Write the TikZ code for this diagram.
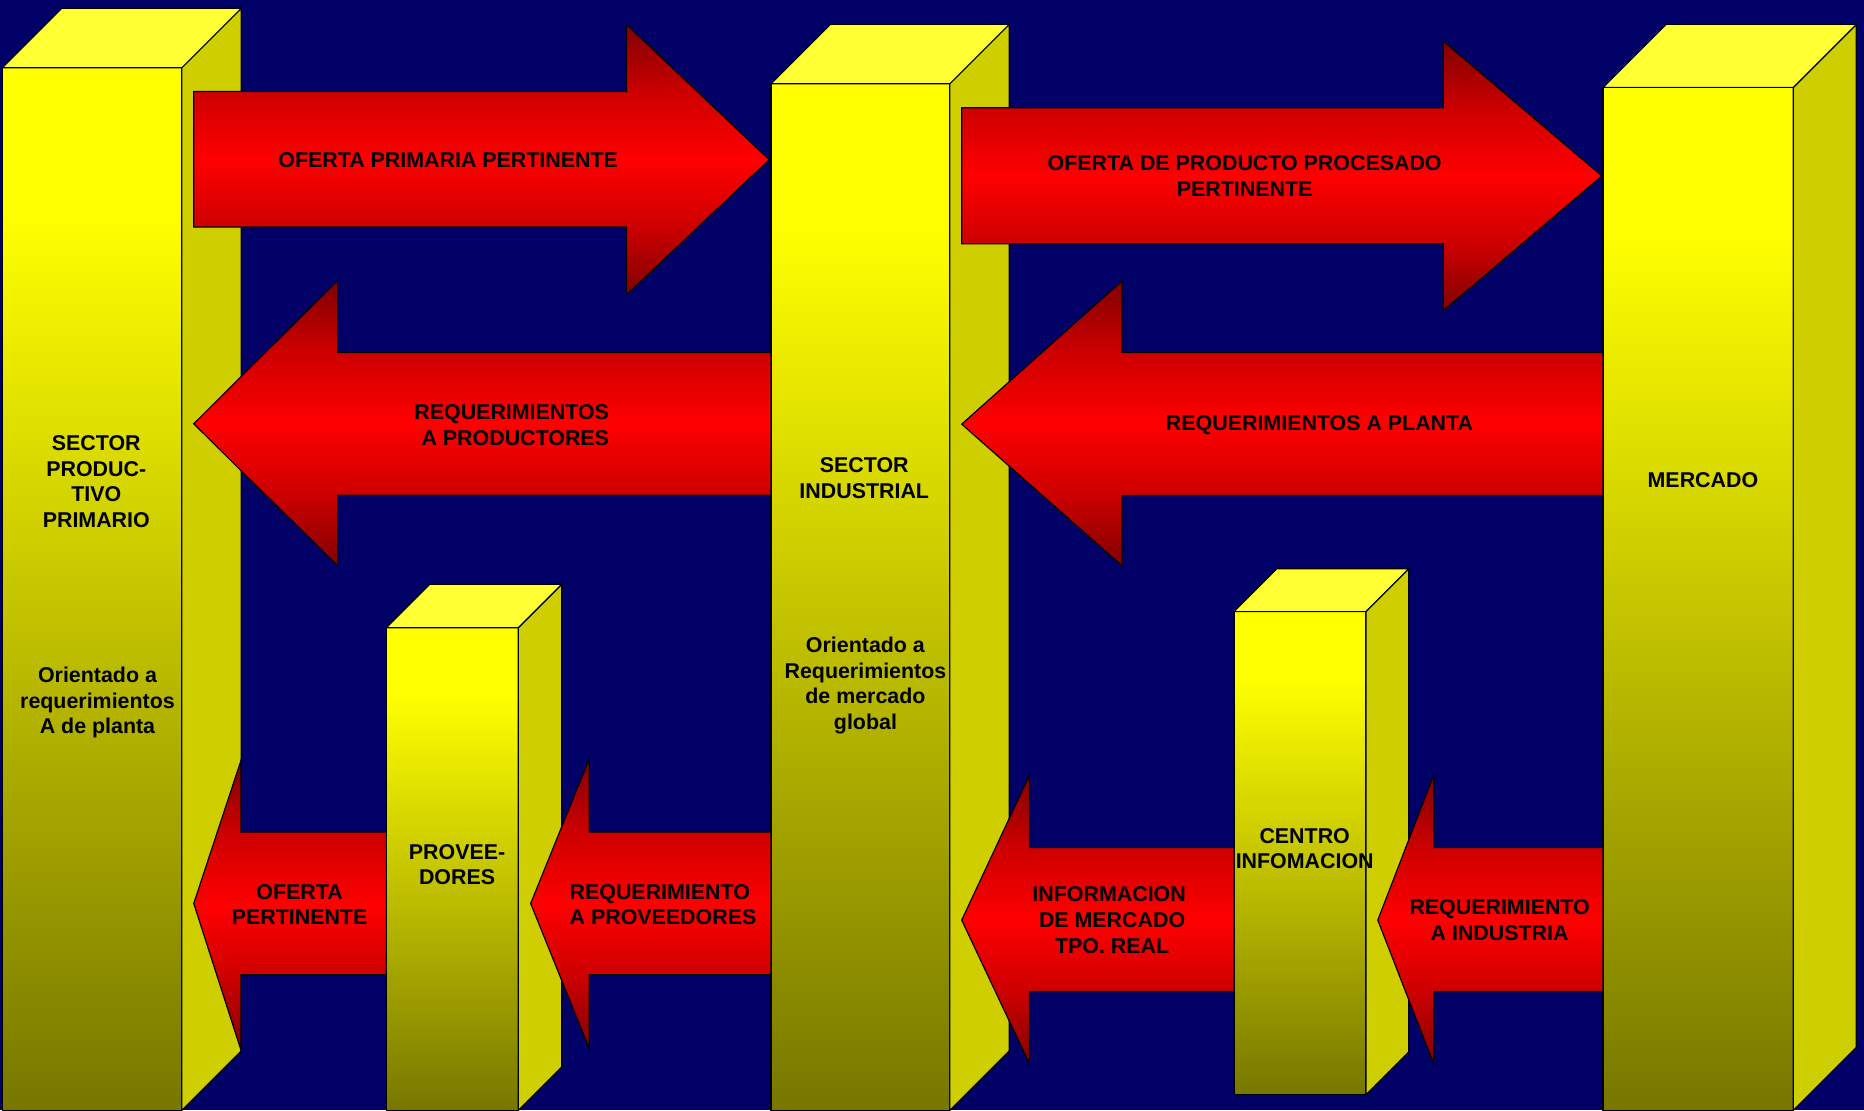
\documentclass[tikz,border=0pt]{standalone}
\usepackage{fontspec}
\setmainfont{Liberation Sans}
\definecolor{bgnavy}{RGB}{0,0,102}
\definecolor{ytop}{RGB}{255,255,51}
\definecolor{yside}{RGB}{206,206,0}
\definecolor{yfront}{RGB}{255,255,0}
\definecolor{yolive}{RGB}{119,119,0}
\definecolor{dred}{RGB}{128,0,0}
\definecolor{sred}{RGB}{205,0,0}
\definecolor{mred}{RGB}{255,0,0}
\pgfdeclareverticalshading{frontshade}{100bp}{color(0bp)=(yolive); color(25bp)=(yolive); color(68bp)=(yfront); color(100bp)=(yfront)}
\pgfdeclareverticalshading{arrowshade}{100bp}{color(0bp)=(dred); color(25bp)=(dred); color(37.5bp)=(sred); color(50bp)=(mred); color(62.5bp)=(sred); color(75bp)=(dred); color(100bp)=(dred)}
\tikzset{
  edge/.style={draw=black, line width=1pt, line join=miter},
  bigarrow/.style={edge, shading=arrowshade},
  lbl/.style={font=\fontsize{18}{21.5}\selectfont\bfseries, text=black, inner sep=0pt, align=center}
}
% front x1, top y1, front x2, bottom y2, depth d
\newcommand{\prismbox}[5]{%
  \shade[shading=frontshade] (#1,#2) rectangle (#3,#4);
  \draw[edge] (#1,#2) rectangle (#3,#4);
  \filldraw[edge, fill=yside] (#3,#2) -- ({#3+#5},{#2-#5}) -- ({#3+#5},{#4-#5}) -- (#3,#4) -- cycle;
  \filldraw[edge, fill=ytop] (#1,#2) -- ({#1+#5},{#2-#5}) -- ({#3+#5},{#2-#5}) -- (#3,#2) -- cycle;
}
\begin{document}
\begin{tikzpicture}[x=1pt, y=-1pt]
\useasboundingbox (0,0) rectangle (1568,934);
\fill[bgnavy] (0,0) rectangle (1568,934);
\clip (0,0) rectangle (1568,934);

% columns
\prismbox{2}{57}{153}{934}{50}
\prismbox{325}{528}{436}{934}{36.5}
\prismbox{648.5}{70.5}{799}{934}{50}
\prismbox{1038}{514.5}{1149}{921}{36}
\prismbox{1348.5}{73.5}{1508.5}{934}{53}

% arrows
\path[bigarrow] (163,77) -- (527,77) -- (527,20.5) -- (647,134.3) -- (527,248) -- (527,191) -- (163,191) -- cycle;
\path[bigarrow] (648.5,296.5) -- (284,296.5) -- (284,236) -- (163,356.5) -- (284,476) -- (284,416.5) -- (648.5,416.5) -- cycle;
\path[bigarrow] (809,90.7) -- (1214,90.7) -- (1214,34.5) -- (1347.5,148) -- (1214,261.4) -- (1214,205) -- (809,205) -- cycle;
\path[bigarrow] (1348.5,296.5) -- (943.8,296.5) -- (943.8,236.3) -- (809,356.8) -- (943.8,476) -- (943.8,416.7) -- (1348.5,416.7) -- cycle;
\path[bigarrow] (325,700) -- (202.6,700) -- (202.6,640) -- (163,760) -- (202.6,883) -- (202.6,820) -- (325,820) -- cycle;
\path[bigarrow] (648.5,700) -- (495.6,700) -- (495.6,638.5) -- (446.4,760) -- (495.6,882) -- (495.6,820) -- (648.5,820) -- cycle;
\path[bigarrow] (1038,713) -- (866,713) -- (866,652) -- (809,774) -- (866,895) -- (866,834) -- (1038,834) -- cycle;
\path[bigarrow] (1348.5,713) -- (1206,713) -- (1206,652) -- (1159,774) -- (1206,895) -- (1206,834) -- (1348.5,834) -- cycle;

% column labels
\node[lbl] (spp) at (81,405) {SECTOR\\PRODUC-\\TIVO\\PRIMARIO};
\node[lbl] (spporient) at (82,591) {Orientado a\\requerimientos\\A de planta};
\node[lbl] (sind) at (727,402) {SECTOR\\INDUSTRIAL};
\node[lbl] (sindorient) at (728,576.5) {Orientado a\\Requerimientos\\de mercado\\global};
\node[lbl] (merc) at (1432.5,403.5) {MERCADO};
\node[lbl] (prov) at (384.5,727.5) {PROVEE-\\DORES};
\node[lbl] (centro) at (1097.5,714) {CENTRO\\INFOMACION};

% arrow labels
\node[lbl] (ofprim) at (377,134.5) {OFERTA PRIMARIA PERTINENTE};
\node[lbl] (ofproc) at (1047,148) {OFERTA DE PRODUCTO PROCESADO\\PERTINENTE};
\node[lbl] (reqplanta) at (1110,357.5) {REQUERIMIENTOS A PLANTA};
\node[lbl, align=right, anchor=east] (reqprod) at (512.5,357.5) {REQUERIMIENTOS\\A PRODUCTORES};
\node[lbl] (ofpert) at (252,761) {OFERTA\\PERTINENTE};
\node[lbl, align=left, anchor=west] (reqprov) at (479,761) {REQUERIMIENTO\\A PROVEEDORES};
\node[lbl] (infmerc) at (935.5,774) {INFORMACION\hphantom{I}\\DE MERCADO\\TPO. REAL};
\node[lbl] (reqind) at (1261.5,774) {REQUERIMIENTO\\A INDUSTRIA};
\end{tikzpicture}
\end{document}
